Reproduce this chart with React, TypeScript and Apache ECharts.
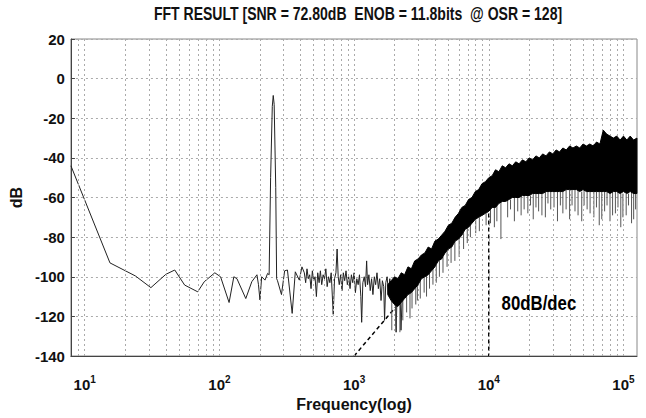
import React, { useEffect, useRef } from 'react';
import * as echarts from 'echarts';

const chartTitle = 'FFT RESULT [SNR = 72.80dB  ENOB = 11.8bits  @ OSR = 128]';
const xName = 'Frequency(log)';
const yName = 'dB';

// sparse part of the spectrum (Hz, dB)
const traceFreq = [
  7.9, 15.4, 23.8, 31, 40, 46.6, 55.2, 69, 77.2, 82, 92.5, 102, 118, 128, 135, 157, 174, 190, 195, 200,
  206, 218, 228, 234, 240, 247, 251, 255, 262, 266, 270, 289, 305, 320, 347, 366, 392, 410,
  427, 437, 447, 457, 468, 479, 490, 501, 513, 525, 537, 550, 562, 575, 589, 603, 617, 631, 646, 661,
  676, 700, 716, 733, 748, 762, 776, 794, 813, 832, 851, 871, 891, 912, 933, 955, 977, 1000, 1023,
  1047, 1072, 1096, 1122, 1138, 1161, 1189, 1216, 1239, 1259, 1288, 1318, 1349, 1380, 1413, 1445,
  1479, 1514, 1549, 1585, 1622, 1660, 1683, 1718, 1758, 1799, 1841, 1884, 1928, 1972, 2018, 2051,
  2089, 2138, 2188, 2228, 2291,
];
const traceDb = [
  -44, -93, -99.6, -105.5, -98.8, -96.6, -104.2, -107.6, -102.5, -101, -98, -100, -113, -100, -101, -111, -102.5, -99, -104, -111.7,
  -100, -101.7, -98.3, -99, -50, -14, -8.5, -13, -55, -101, -102, -109, -97, -96.6, -118.5, -97.5, -101.7, -95,
  -98, -103, -96, -101, -99, -106, -97, -102, -100, -110, -98, -103, -97, -104, -99, -101, -96, -105, -100, -103,
  -98, -119, -101, -98, -86, -100, -104, -99, -107, -98, -102, -97, -104, -100, -106, -99, -103, -98, -108,
  -101, -104, -99, -110, -123, -103, -100, -105, -92, -104, -99, -107, -101, -109, -100, -104,
  -98, -106, -101, -112, -102, -105, -122, -103, -100, -108, -101, -110, -103, -112, -104, -128,
  -106, -111, -103, -127, -105,
];

// dense part of the spectrum: envelope of the black band
const bandFreq = [
  1778, 1884, 1995, 2113, 2239, 2371, 2512, 2661, 2818, 2985, 3162, 3350, 3548, 3758, 3981, 4217, 4467, 4732,
  5012, 5309, 5623, 5957, 6310, 6683, 7079, 7499, 7943, 8414, 8913, 9441, 10000, 10593, 11220, 11885, 12589,
  13335, 14125, 14962, 15849, 16788, 17783, 18836, 19953, 21135, 22387, 23714, 25119, 26607, 28184, 29854,
  31623, 33497, 35481, 37584, 39811, 42170, 44668, 47315, 50119, 53088, 56234, 59566, 63096, 66834, 70795,
  74989, 79433, 84140, 89125, 94406, 100000, 105925, 112202, 118850, 125893,
];
const bandTop = [
  -104, -102, -100, -101, -98, -99, -95, -96, -92, -91, -89, -88, -85, -86, -82, -81, -79, -77,
  -74, -73, -70, -68, -65, -64, -61, -60, -57, -56, -53, -52, -50, -49, -46, -47, -44,
  -45, -43, -44, -42, -43, -41, -42, -40, -41, -39, -40, -38, -39, -37, -38,
  -36, -37, -35, -36, -34, -35, -34, -35, -33, -34, -33, -34, -32, -33, -26,
  -28, -29, -30, -29, -31, -29, -31, -29, -31, -30,
];
const bandBottom = [
  -109, -112, -114, -115, -113, -111, -109, -108, -106, -104, -101, -100, -99, -97, -95, -92, -91, -88,
  -86, -85, -82, -81, -79, -76, -75, -73, -71, -70, -69, -68, -67, -65, -65, -63, -62,
  -62, -61, -60, -60, -60, -59, -59, -59, -58, -58, -58, -58, -57, -57, -57,
  -57, -57, -57, -56, -56, -56, -56, -57, -56, -57, -57, -57, -57, -57, -57,
  -57, -58, -57, -57, -58, -57, -58, -57, -58, -58,
];

// downward spikes below the band (Hz, from dB, to dB)
const spikeFreq = [
  1905, 2042, 2188, 2300, 2455, 2600, 2692, 2870, 2951, 3100, 3311, 3450, 3631, 3850, 4074, 4300, 4571, 4900,
  5248, 5600, 6026, 6500, 6918, 7300, 8000, 8511, 9550, 10300, 11000, 11482, 12303, 13804, 14500, 15488,
  16400, 17378, 18300, 19498, 20400, 21380, 22400, 23442, 24800, 26303, 27500, 28840, 30500, 32359, 34000,
  35481, 37500, 39811, 41500, 43652, 46000, 48978, 51000, 53703, 56500, 60256, 63000, 66069, 69000, 72444,
  75500, 79433, 83000, 87096, 91000, 95499, 99000, 104713, 109000, 114815, 119000, 123027,
];
const spikeFrom = [
  -112, -110, -110, -111, -106, -107, -106, -104, -103, -101, -100, -99, -98, -96, -94, -92, -90, -87,
  -85, -82, -80, -78, -75, -73, -71, -70, -68, -66, -65, -64, -62, -61, -61, -60,
  -60, -59, -59, -59, -59, -58, -58, -58, -58, -57, -57, -57, -57, -57, -57,
  -57, -56, -56, -56, -56, -56, -57, -56, -57, -57, -57, -57, -57, -57, -57,
  -57, -58, -57, -57, -57, -58, -58, -58, -58, -57, -57, -58,
];
const spikeTo = [
  -127, -125, -128, -122, -118, -121, -116, -114, -112, -111, -108, -110, -106, -104, -103, -100, -98, -95,
  -93, -92, -90, -86, -83, -80, -78, -77, -74, -73, -75, -72, -81, -70, -66, -72,
  -67, -69, -66, -68, -64, -71, -65, -67, -69, -70, -63, -66, -65, -72, -64,
  -68, -66, -71, -64, -67, -69, -72, -64, -66, -68, -70, -65, -74, -71, -67,
  -64, -72, -69, -68, -65, -75, -70, -69, -64, -73, -71, -66,
];

// 80 dB/dec guide
const slopeFreq = [1000, 10000, 10000];
const slopeDb = [-140, -60, -140];
const annotation = { freq: 12450, db: -113, text: '80dB/dec' };

// vertical grid lines of the log axis
const gridFreqs = [
  9, 10, 20, 30, 40, 50, 60, 70, 80, 90, 100, 200, 300, 400, 500, 600, 700, 800, 900, 1000,
  2000, 3000, 4000, 5000, 6000, 7000, 8000, 9000, 10000, 20000, 30000, 40000, 50000, 60000, 70000,
  80000, 90000, 100000,
];
const xMin = 7.9;
const xMax = 126000;
const yMin = -140;
const yMax = 20;
const yStep = 20;

const FONT = "'Liberation Sans Narrow', 'Arial Narrow', 'Liberation Sans', Arial, sans-serif";

export default function App() {
  const ref = useRef<HTMLDivElement>(null);
  useEffect(() => {
    if (!ref.current) return;
    const chart = echarts.init(ref.current, null, { renderer: 'svg' });
    const option: any = {
      animation: false,
      backgroundColor: '#fff',
      graphic: [
        {
          type: 'text',
          x: 358,
          y: 13,
          scaleX: 0.78,
          silent: true,
          style: {
            text: chartTitle,
            fill: '#111',
            fontFamily: "'Liberation Sans', Arial, sans-serif",
            fontWeight: 'bold',
            fontSize: 18,
            align: 'center',
            verticalAlign: 'middle',
          },
        },
      ],
      grid: {
        left: 61, right: 9, top: 39, bottom: 62,
        show: true, borderColor: '#888', borderWidth: 1, backgroundColor: 'transparent',
      },
      xAxis: {
        type: 'log',
        logBase: 10,
        min: xMin,
        max: xMax,
        name: xName,
        nameLocation: 'middle',
        nameGap: 40,
        nameTextStyle: { fontFamily: FONT, fontWeight: 'bold', fontSize: 16, color: '#111' },
        axisLine: { show: true, onZero: false, lineStyle: { color: '#444', width: 1 } },
        axisTick: { show: false },
        splitLine: { show: false },
        axisLabel: {
          showMinLabel: false,
          showMaxLabel: false,
          margin: 18,
          formatter: (v: number) => {
            const e = Math.log10(v);
            if (Math.abs(e - Math.round(e)) > 1e-6) return '';
            return '{b|10}{s|' + Math.round(e) + '}';
          },
          rich: {
            b: { fontFamily: FONT, fontWeight: 'bold', fontSize: 15, color: '#111' },
            s: { fontFamily: FONT, fontWeight: 'bold', fontSize: 10, color: '#111', padding: [0, 0, 10, 0] },
          },
        },
      },
      yAxis: {
        type: 'value',
        min: yMin,
        max: yMax,
        interval: yStep,
        name: yName,
        nameLocation: 'middle',
        nameGap: 35,
        nameTextStyle: { fontFamily: FONT, fontWeight: 'bold', fontSize: 16, color: '#111' },
        axisLine: { show: true, onZero: false, lineStyle: { color: '#444', width: 1 } },
        axisTick: { show: true, inside: true, length: 4, lineStyle: { color: '#444' } },
        axisLabel: { fontFamily: FONT, fontWeight: 'bold', fontSize: 15, color: '#111', margin: 6 },
        splitLine: { show: true, lineStyle: { color: '#aaa', type: [2, 3], width: 1 } },
      },
      series: [
        {
          type: 'line',
          z: 2,
          data: slopeFreq.map((f, i) => [f, slopeDb[i]]),
          showSymbol: false,
          silent: true,
          lineStyle: { color: '#000', width: 1.5, type: [4, 3] },
          markLine: {
            silent: true,
            symbol: 'none',
            label: { show: false },
            lineStyle: { color: '#aaa', type: [2, 3], width: 1 },
            data: gridFreqs.map((f) => ({ xAxis: f })),
          },
        },
        {
          type: 'line',
          z: 3,
          data: traceFreq.map((f, i) => [f, traceDb[i]]),
          showSymbol: false,
          silent: true,
          lineStyle: { color: '#222', width: 1 },
        },
        {
          type: 'custom',
          z: 4,
          silent: true,
          data: spikeFreq.map((f, i) => [f, spikeFrom[i], spikeTo[i]]),
          encode: { x: 0, y: [1, 2] },
          renderItem: (_p: any, api: any) => {
            const a = api.coord([api.value(0), api.value(1)]);
            const b = api.coord([api.value(0), api.value(2)]);
            return { type: 'line', shape: { x1: a[0], y1: a[1], x2: b[0], y2: b[1] }, style: { stroke: '#555', lineWidth: 1 } };
          },
        },
        {
          type: 'custom',
          z: 5,
          silent: true,
          data: [[bandFreq[0], bandTop[0]]],
          renderItem: (_p: any, api: any) => {
            const pts: number[][] = [];
            bandFreq.forEach((f, i) => pts.push(api.coord([f, bandTop[i]])));
            for (let i = bandFreq.length - 1; i >= 0; i--) pts.push(api.coord([bandFreq[i], bandBottom[i]]));
            return { type: 'polygon', shape: { points: pts }, style: { fill: '#000', stroke: '#000', lineWidth: 1 } };
          },
        },
        {
          type: 'custom',
          z: 6,
          silent: true,
          data: [[annotation.freq, annotation.db]],
          renderItem: (_p: any, api: any) => {
            const p = api.coord([api.value(0), api.value(1)]);
            return {
              type: 'text',
              x: p[0],
              y: p[1],
              scaleX: 0.84,
              style: {
                text: annotation.text,
                fill: '#000',
                fontFamily: "'Liberation Sans', Arial, sans-serif",
                fontWeight: 'bold',
                fontSize: 20,
                align: 'left',
                verticalAlign: 'middle',
              },
            };
          },
        },
      ],
    };
    chart.setOption(option);
    return () => chart.dispose();
  }, []);
  return <div ref={ref} style={{ position: 'fixed', left: 0, top: 0, width: 646, height: 418 }} />;
}
